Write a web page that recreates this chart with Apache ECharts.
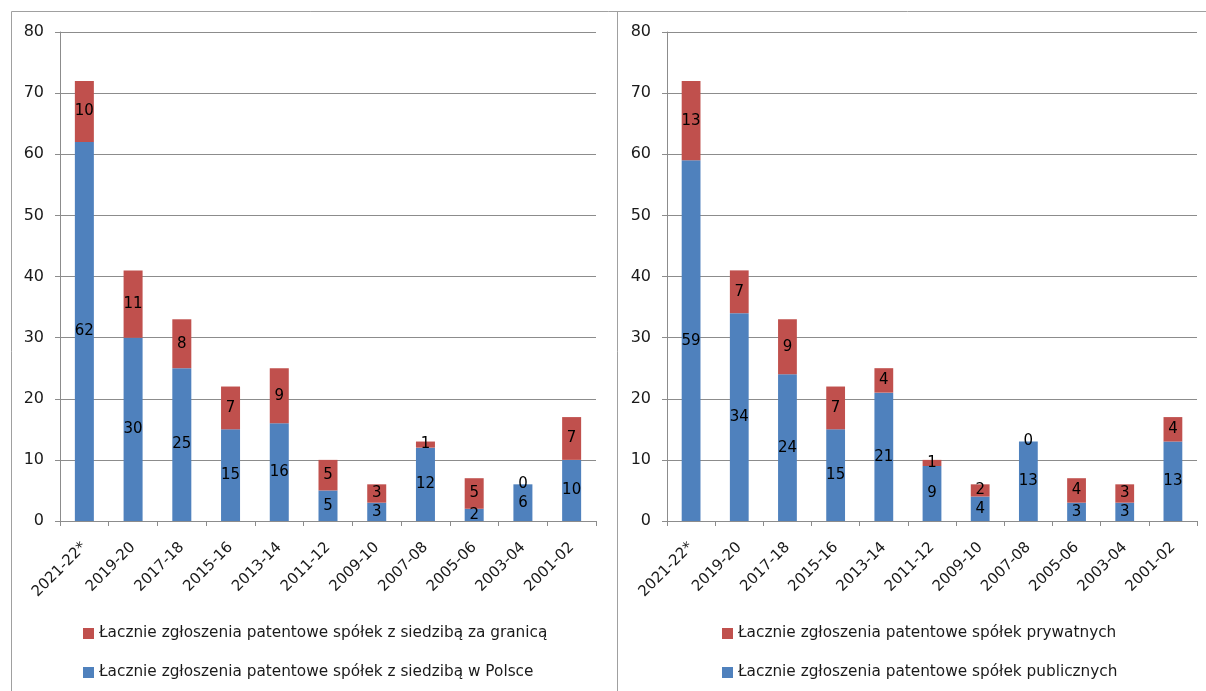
<!DOCTYPE html>
<html>
<head>
<meta charset="utf-8">
<script src="https://cdn.jsdelivr.net/npm/echarts@6/dist/echarts.min.js"></script>
<style>
  html, body { margin: 0; padding: 0; background: #fff; }
  #chart { width: 1206px; height: 691px; }
</style>
</head>
<body>
<div id="chart"></div>
<script>
// okresy (kategorie)
const periods = ['2021-22*', '2019-20', '2017-18', '2015-16', '2013-14', '2011-12', '2009-10', '2007-08', '2005-06', '2003-04', '2001-02'];
const yTicks = [0, 10, 20, 30, 40, 50, 60, 70, 80];

// lewy wykres
const nameLeftPl = 'Łacznie zgłoszenia patentowe spółek z siedzibą w Polsce';
const nameLeftAbroad = 'Łacznie zgłoszenia patentowe spółek z siedzibą za granicą';
const leftPoland = [62, 30, 25, 15, 16, 5, 3, 12, 2, 6, 10];
const leftAbroad = [10, 11, 8, 7, 9, 5, 3, 1, 5, 0, 7];

// prawy wykres
const nameRightPublic = 'Łacznie zgłoszenia patentowe spółek publicznych';
const nameRightPrivate = 'Łacznie zgłoszenia patentowe spółek prywatnych';
const rightPublic = [59, 34, 24, 15, 21, 9, 4, 13, 3, 3, 13];
const rightPrivate = [13, 7, 9, 7, 4, 1, 2, 0, 4, 3, 4];

const BLUE = '#4F81BD', RED = '#C0504D', GRID_COL = '#8c8c8c';
const FONT = 'DejaVu Sans';

const myChart = echarts.init(document.getElementById('chart'));

const xAxisBase = (gridIndex) => ({
  type: 'category',
  gridIndex: gridIndex,
  data: periods,
  axisLine: { lineStyle: { color: GRID_COL, width: 1 } },
  axisTick: { show: true, length: 5, lineStyle: { color: GRID_COL } },
  axisLabel: { rotate: 45, interval: 0, color: '#1a1a1a', fontFamily: FONT, fontSize: 15, margin: 24 }
});

const yAxisBase = (gridIndex) => ({
  type: 'value',
  gridIndex: gridIndex,
  min: yTicks[0],
  max: yTicks[yTicks.length - 1],
  interval: 10,
  axisLine: { show: true, lineStyle: { color: GRID_COL, width: 1 } },
  axisTick: { show: true, length: 5, lineStyle: { color: GRID_COL } },
  splitLine: { lineStyle: { color: GRID_COL, width: 1 } },
  axisLabel: { color: '#1a1a1a', fontFamily: FONT, fontSize: 16, margin: 16 }
});

const labelStyle = {
  show: true,
  position: 'inside',
  color: '#000',
  fontFamily: FONT,
  fontSize: 15
};

const barSeries = (name, data, color, idx, stack) => ({
  name: name,
  type: 'bar',
  stack: stack,
  xAxisIndex: idx,
  yAxisIndex: idx,
  data: data,
  barWidth: '39%',
  itemStyle: { color: color },
  label: labelStyle
});

const legendText = { fontFamily: FONT, fontSize: 15.3, color: '#1a1a1a' };

const option = {
  backgroundColor: '#fff',
  animation: false,
  grid: [
    { left: 60, top: 32, width: 536, height: 489 },
    { left: 667, top: 32, width: 530, height: 489 }
  ],
  xAxis: [xAxisBase(0), xAxisBase(1)],
  yAxis: [yAxisBase(0), yAxisBase(1)],
  legend: [
    {
      orient: 'vertical',
      left: 78, top: 621,
      itemWidth: 11, itemHeight: 11, itemGap: 24,
      icon: 'rect',
      data: [nameLeftAbroad, nameLeftPl],
      textStyle: legendText
    },
    {
      orient: 'vertical',
      left: 717, top: 621,
      itemWidth: 11, itemHeight: 11, itemGap: 24,
      icon: 'rect',
      data: [nameRightPrivate, nameRightPublic],
      textStyle: legendText
    }
  ],
  graphic: [
    { type: 'line', shape: { x1: 11.5, y1: 11.5, x2: 1206, y2: 11.5 }, style: { stroke: '#a0a0a0', lineWidth: 1 } },
    { type: 'line', shape: { x1: 11.5, y1: 11.5, x2: 11.5, y2: 691 }, style: { stroke: '#a0a0a0', lineWidth: 1 } },
    { type: 'line', shape: { x1: 617.5, y1: 11.5, x2: 617.5, y2: 691 }, style: { stroke: '#a0a0a0', lineWidth: 1 } }
  ],
  series: [
    barSeries(nameLeftPl, leftPoland, BLUE, 0, 'left'),
    barSeries(nameLeftAbroad, leftAbroad, RED, 0, 'left'),
    barSeries(nameRightPublic, rightPublic, BLUE, 1, 'right'),
    barSeries(nameRightPrivate, rightPrivate, RED, 1, 'right')
  ]
};

myChart.setOption(option);
</script>
</body>
</html>
